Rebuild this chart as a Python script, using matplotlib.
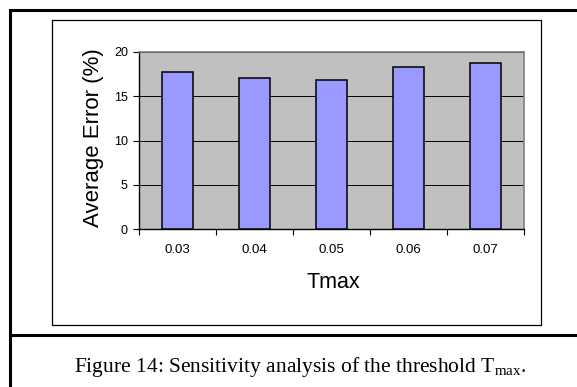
import numpy as np
import matplotlib
matplotlib.use("Agg")
import matplotlib.pyplot as plt
from matplotlib.lines import Line2D
from matplotlib.patches import Rectangle

# values
thresholds = ['0.03', '0.04', '0.05', '0.06', '0.07']
avg_error = [17.7, 17.1, 16.85, 18.3, 18.75]
y_ticks = [0, 5, 10, 15, 20]

W, H = 577, 387

def fx(px):
    return px / W

def fy(py):
    return 1 - py / H

plt.rcParams['font.family'] = ['Liberation Sans', 'DejaVu Sans']
plt.rcParams['mathtext.fontset'] = 'custom'
plt.rcParams['mathtext.rm'] = 'Liberation Serif'

fig = plt.figure(figsize=(W / 100, H / 100), dpi=100)

# outer page frame and caption divider
for line in [((10, 10), (10, 387)), ((10, 577), (10, 10)), ((10, 577), (335, 335))]:
    fig.add_artist(Line2D([fx(v) for v in line[0]], [fy(v) for v in line[1]],
                          color='black', linewidth=2.2))

# inner chart box
fig.add_artist(Rectangle((fx(52), fy(325)), fx(541) - fx(52), fy(20) - fy(325),
                         fill=False, edgecolor='black', linewidth=0.9,
                         transform=fig.transFigure))

# plot area
ax = fig.add_axes([fx(139), fy(229), fx(524) - fx(139), fy(52) - fy(229)])
ax.set_facecolor('#C0C0C0')

x = np.arange(len(thresholds))
ax.bar(x, avg_error, width=0.39, color='#9999FF', edgecolor='black',
       linewidth=1.1, zorder=3)

ax.set_xlim(-0.5, len(thresholds) - 0.5)
ax.set_ylim(0, 20)
ax.set_yticks(y_ticks)
ax.set_yticklabels([str(t) for t in y_ticks], fontsize=9)
ax.set_xticks(x)
ax.set_xticklabels(thresholds, fontsize=9.5)
ax.set_xticks(np.arange(len(thresholds) + 1) - 0.5, minor=True)

ax.grid(axis='y', color='black', linewidth=0.7, zorder=1)
ax.tick_params(axis='x', which='major', length=0, pad=11)
ax.tick_params(axis='x', which='minor', length=4, width=0.8, direction='out')
ax.tick_params(axis='y', length=4, width=0.8, direction='out', pad=4)

for side in ['top', 'right']:
    ax.spines[side].set_color('#808080')
    ax.spines[side].set_linewidth(1.2)
for side in ['left', 'bottom']:
    ax.spines[side].set_color('black')
    ax.spines[side].set_linewidth(1.0)

# axis titles
fig.text(fx(93), fy(137.5), 'Average Error (%)', rotation=90, fontsize=16,
         ha='center', va='center')
fig.text(fx(333), fy(283), 'Tmax', fontsize=15.5, ha='center', va='center')

# caption
fig.text(fx(300), fy(372), r'Figure 14: Sensitivity analysis of the threshold T$_{\mathrm{max}}$.',
         fontsize=15.5, family='Liberation Serif', ha='center', va='baseline')

fig.savefig('out.png', dpi=100)
